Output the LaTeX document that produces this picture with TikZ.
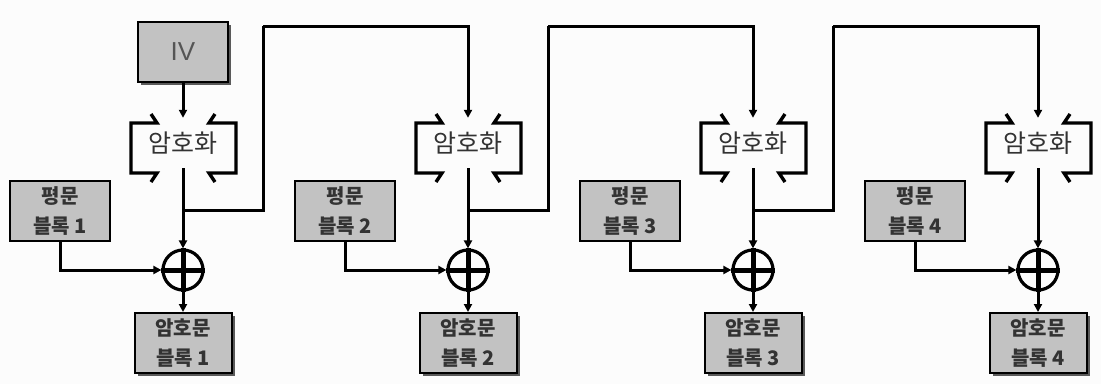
\documentclass[tikz,border=0pt]{standalone}
\usepackage{fontspec}
\newfontfamily\kr{Noto Sans CJK KR}
\newfontfamily\lat{Liberation Sans}
\usetikzlibrary{arrows.meta,shadows}
\definecolor{boxgray}{HTML}{C2C2C2}
\definecolor{shadowgray}{HTML}{5A5A5A}
\definecolor{textgray}{HTML}{333333}
\definecolor{ivgray}{HTML}{555555}
\definecolor{bggray}{HTML}{FCFCFC}
\begin{document}
\begin{tikzpicture}[x=1pt,y=-1pt,
  conn/.style={line width=3pt,-{Triangle[length=8pt,width=8pt]}},
  feed/.style={line width=3pt},
  bracket/.style={line width=3.4pt,line join=miter,line cap=butt},
  boxbase/.style={draw=black,line width=2pt,fill=boxgray,inner sep=0pt,
    text=textgray,align=center,font=\kr\bfseries\fontsize{20}{29.5}\selectfont},
  plainbox/.style={boxbase,minimum width=100pt,minimum height=60pt},
  shadowbox/.style={drop shadow={shadow xshift=3pt,shadow yshift=-3pt,
    fill=shadowgray,opacity=1}},
  cipherbox/.style={boxbase,shadowbox,minimum width=97pt,minimum height=60pt},
  ivbox/.style={boxbase,shadowbox,minimum width=90pt,minimum height=60pt,
    text=ivgray,font=\lat\fontsize{26}{30}\selectfont},
  enctext/.style={inner sep=0pt,minimum width=100pt,minimum height=50pt,
    text=textgray,font=\kr\fontsize{25}{30}\selectfont},
  xorc/.style={circle,draw=black,line width=3.2pt,minimum size=40pt,inner sep=0pt},
  cross/.style={line width=5pt}
]
\useasboundingbox[fill=bggray] (0,0) rectangle (1101,384);

% initial vector
\node[ivbox] (iv) at (183,52) {IV};

% one stage per column: encryption, plaintext block, XOR, ciphertext block
\foreach \i/\cx in {1/183,2/468,3/753,4/1038} {
  \node[enctext] (enc\i) at (\cx,143) {암호화};
  \draw[bracket] (\cx-32,114) -- (\cx-26,123) -- (\cx-52,123)
                 -- (\cx-52,173) -- (\cx-26,173) -- (\cx-32,182);
  \draw[bracket] (\cx+32,114) -- (\cx+26,123) -- (\cx+53,123)
                 -- (\cx+53,173) -- (\cx+26,173) -- (\cx+32,182);
  \node[plainbox] (p\i) at (\cx-123,211) {평문\\블록 \i};
  \node[xorc] (x\i) at (\cx,270) {};
  \draw[cross] (x\i.north) -- (x\i.south) (x\i.west) -- (x\i.east);
  \node[cipherbox] (c\i) at (\cx,343) {암호문\\블록 \i};
  \coordinate (j\i) at (\cx,210);
  \coordinate (t\i) at (\cx+80,26);
  \draw[conn] (enc\i.south) -- (x\i.north);
  \draw[conn] (p\i.south) |- (x\i.west);
  \draw[conn] (x\i.south) -- (c\i.north);
}

\draw[conn] (iv.south) -- (enc1.north);

% chaining: each ciphertext feeds the next encryption
\draw[feed] (j1) -| (t1);
\draw[conn] (t1) -| (enc2.north);
\draw[feed] (j2) -| (t2);
\draw[conn] (t2) -| (enc3.north);
\draw[feed] (j3) -| (t3);
\draw[conn] (t3) -| (enc4.north);
\end{tikzpicture}
\end{document}
